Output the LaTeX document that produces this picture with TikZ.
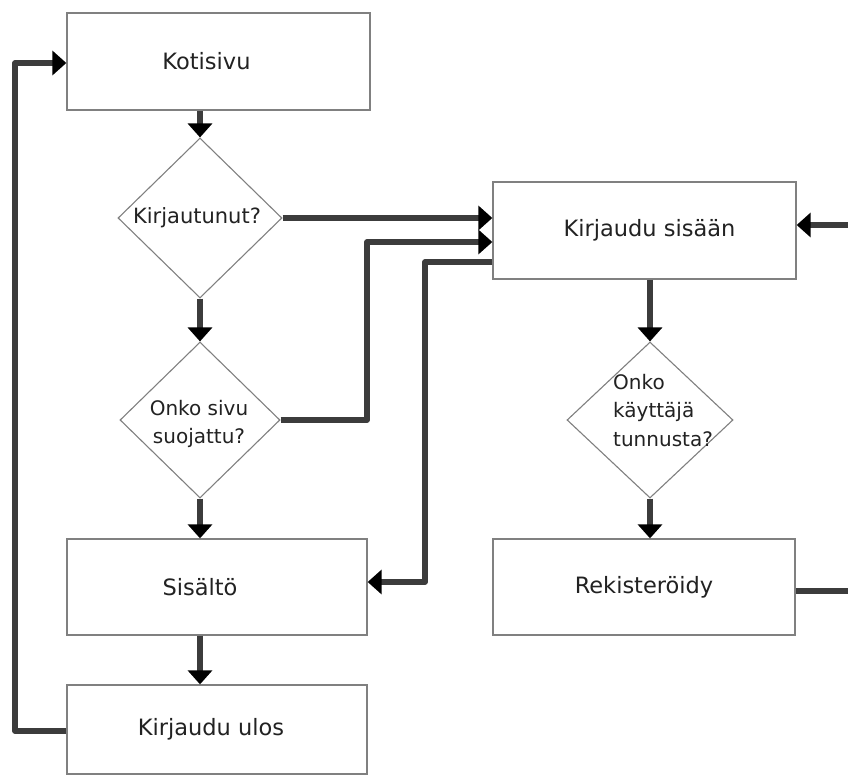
\documentclass[tikz,border=0pt]{standalone}
\usepackage{fontspec}
\setmainfont{DejaVu Sans}
\usetikzlibrary{arrows.meta,shapes.geometric}
\definecolor{conncol}{HTML}{3C3C3C}
\definecolor{edgecol}{HTML}{808080}
\definecolor{txtcol}{HTML}{222222}
\begin{document}
\begin{tikzpicture}[x=1pt,y=-1pt,
  box/.style={draw=edgecol, line width=1.3pt, rectangle, inner sep=0pt, fill=white},
  dia/.style={draw=edgecol, line width=1.1pt, diamond, inner sep=0pt, aspect=1},
  boxtext/.style={font=\fontsize{22.5}{26}\selectfont, text=txtcol},
  diatext/.style={font=\fontsize{20}{28.5}\selectfont, text=txtcol, align=center},
  conn/.style={draw=conncol, line width=5.5pt, line join=round},
  arr/.style={conn, -{Triangle[length=14pt,width=24pt,color=black]}}
]
\useasboundingbox[fill=white] (0,0) rectangle (848,776);

% boxes
\node[box, minimum width=303pt, minimum height=97pt,
      label={[boxtext, xshift=-12pt]center:Kotisivu}] (koti) at (218.5,61.5) {};
\node[box, minimum width=303pt, minimum height=97pt,
      label={[boxtext, xshift=5pt]center:Kirjaudu sisään}] (sisaan) at (644.5,230.5) {};
\node[box, minimum width=300pt, minimum height=96pt,
      label={[boxtext, xshift=-17pt]center:Sisältö}] (sisalto) at (217,587) {};
\node[box, minimum width=302pt, minimum height=96pt,
      label={[boxtext]center:Rekisteröidy}] (rek) at (644,587) {};
\node[box, minimum width=300pt, minimum height=89pt,
      label={[boxtext, xshift=-6pt]center:Kirjaudu ulos}] (ulos) at (217,729.5) {};

% diamonds
\node[dia, minimum width=164pt, minimum height=160pt,
      label={[diatext, font=\fontsize{21}{28}\selectfont, xshift=-3pt]center:Kirjautunut?}] (d1) at (200,218) {};
\node[dia, minimum width=160pt, minimum height=156pt,
      label={[diatext, yshift=-4pt, xshift=-1pt]center:Onko sivu\\suojattu?}] (d2) at (200,420) {};
\node[dia, minimum width=166pt, minimum height=156pt] (d3) at (650,420) {};
\node[diatext, align=left, anchor=north west, inner sep=0pt] (d3t) at (613,374) {Onko\\käyttäjä\\tunnusta?};

% coordinates for bends
\coordinate (j1) at (367,242);
\coordinate (j2) at (425,262);
\coordinate (j3) at (425,582);
\coordinate (j4) at (866,591);
\coordinate (j5) at (866,225);
\coordinate (j6) at (15,731);
\coordinate (j7) at (15,63);

% connectors
\draw[arr] (koti.south -| d1.north) -- (d1.north);
\draw[arr] (d1.south) -- (d2.north);
\draw[arr] (d2.south) -- (d2.south |- sisalto.north);
\draw[arr] (sisalto.south -| d2.south) -- (ulos.north -| d2.south);
\draw[arr] (d1.east) -- (d1.east -| sisaan.west);
\draw[arr] (d2.east) -| (j1) -- (j1 -| sisaan.west);
\draw[arr] (j2 -| sisaan.west) -- (j2) -- (j3) -- (j3 -| sisalto.east);
\draw[arr] (sisaan.south -| d3.north) -- (d3.north);
\draw[arr] (d3.south) -- (d3.south |- rek.north);
\draw[arr] (j4 -| rek.east) -- (j4) -- (j5) -- (j5 -| sisaan.east);
\draw[arr] (j6 -| ulos.west) -- (j6) -- (j7) -- (j7 -| koti.west);
\end{tikzpicture}
\end{document}
